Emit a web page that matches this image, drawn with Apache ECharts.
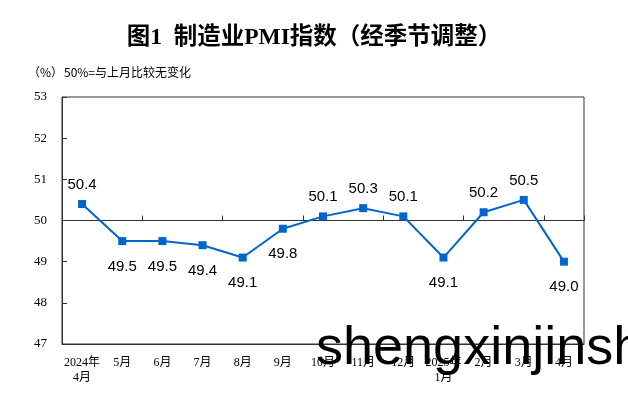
<!DOCTYPE html>
<html><head><meta charset="utf-8">
<script src="https://cdn.jsdelivr.net/npm/echarts@6/dist/echarts.min.js"></script>
<style>html,body{margin:0;padding:0;background:#fff}#c{width:628px;height:396px}</style>
</head><body><div id="c"></div>
<script>
const categories = ['2024年\n4月','5月','6月','7月','8月','9月','10月','11月','12月','2025年\n1月','2月','3月','4月'];
const pmiValues = [50.4, 49.5, 49.5, 49.4, 49.1, 49.8, 50.1, 50.3, 50.1, 49.1, 50.2, 50.5, 49.0];
const yMin = 47, yMax = 53, yStep = 1;
const titleText = '图1  制造业PMI指数（经季节调整）';
const unitText = '（%）';
const noteText = '50%=与上月比较无变化';
const watermarkText = 'shengxinjinsh';

const serif = '"Liberation Serif","Noto Sans CJK SC",serif';
const chart = echarts.init(document.getElementById('c'), null, {renderer:'canvas'});
const gridTop = 97, gridBottom = 52;
const plotH = 396 - gridTop - gridBottom;
const offset50 = -plotH * (50 - yMin) / (yMax - yMin);

chart.setOption({
  animation: false,
  backgroundColor: '#fff',
  title: {
    text: titleText, left: 'center', top: 21,
    textStyle: {fontFamily: serif, fontSize: 23.5, fontWeight: 'bold', color: '#000'}
  },
  graphic: [
    {type:'text', left: 28, top: 66, style:{text: unitText, font: '12px "Noto Sans CJK SC",sans-serif', fill:'#000'}},
    {type:'text', left: 64, top: 66, style:{text: noteText, font: '12px "Noto Sans CJK SC",sans-serif', fill:'#000'}},
    {type:'text', left: 316, top: 322, z: 100, style:{text: watermarkText, font: '54px "Liberation Sans",Arial,sans-serif', fill:'#000'}}
  ],
  grid: {left: 62, right: 44, top: gridTop, bottom: gridBottom, show: true, borderColor: '#333', borderWidth: 1},
  xAxis: [
    {
      type: 'category', data: categories, boundaryGap: true,
      axisLine: {show: true, lineStyle: {color: '#333'}},
      axisTick: {show: false},
      axisLabel: {fontFamily: serif, fontSize: 12, color: '#000', margin: 11, lineHeight: 15, interval: 0}
    },
    {
      type: 'category', data: categories, boundaryGap: true, position: 'bottom', offset: offset50,
      axisLine: {show: true, lineStyle: {color: '#333'}},
      axisTick: {show: true, inside: true, length: 5, lineStyle: {color: '#333'}},
      axisLabel: {show: false}
    }
  ],
  yAxis: {
    type: 'value', min: yMin, max: yMax, interval: yStep,
    axisLine: {show: true, lineStyle: {color: '#333'}},
    axisTick: {show: true, inside: true, length: 5, lineStyle: {color: '#333'}},
    splitLine: {show: false},
    axisLabel: {fontFamily: serif, fontSize: 13, color: '#000', margin: 15}
  },
  series: [{
    type: 'line', xAxisIndex: 0,
    data: pmiValues.map(v => ({value: v, label: {position: v < 50 ? 'bottom' : 'top', distance: v < 50 ? 14 : 8}})),
    symbol: 'rect', symbolSize: 8,
    lineStyle: {color: '#0066cc', width: 2},
    itemStyle: {color: '#0066cc'},
    label: {
      show: true, fontFamily: '"Liberation Sans",Arial,sans-serif', fontSize: 15, color: '#000',
      formatter: p => p.value.toFixed(1)
    }
  }]
});
</script>
</body></html>
